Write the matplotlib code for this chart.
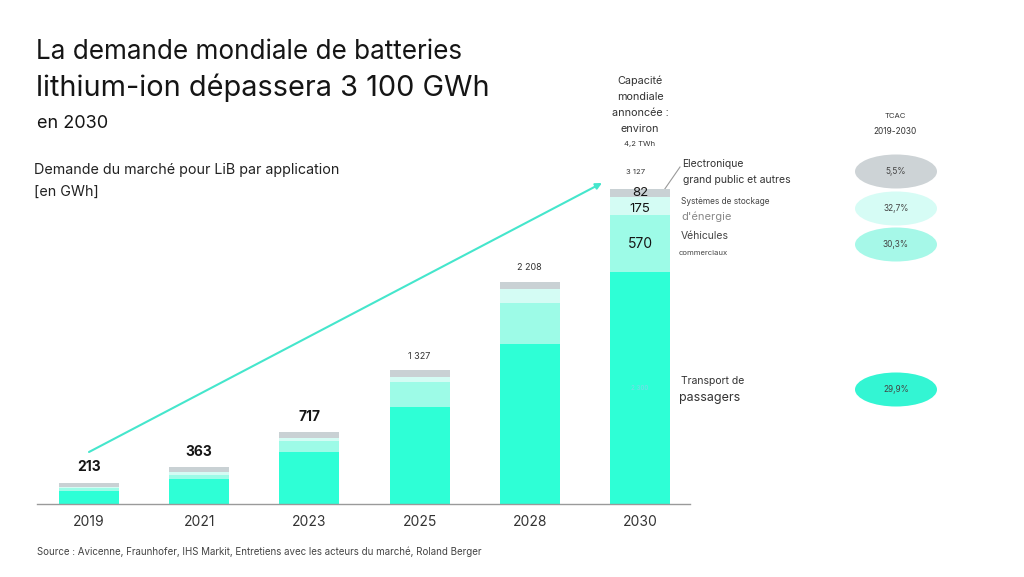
"""Demande mondiale de batteries lithium-ion par application, 2019-2030."""

import matplotlib

matplotlib.use("Agg")
import matplotlib.pyplot as plt
from matplotlib.patches import Ellipse

# données (GWh)
years = ["2019", "2021", "2023", "2025", "2028", "2030"]
passagers = [131, 253, 512, 960, 1590, 2300]
commerciaux = [25, 37, 114, 248, 405, 570]
stockage = [12, 23, 27, 50, 140, 175]
electronique = [45, 50, 64, 69, 73, 82]
totals = [213, 363, 717, 1327, 2208, 3127]
total_labels = ["213", "363", "717", "1 327", "2 208", "3 127"]
tcac = ["5,5%", "32,7%", "30,3%", "29,9%"]

C_PASS = "#2effd6"
C_COMM = "#9dfbe7"
C_STOCK = "#d4fcf4"
C_ELEC = "#c9d1d4"
INK = "#151515"
ARROW = "#45e6cc"

plt.rcParams.update({
    "font.family": ["Inter", "DejaVu Sans"],
    "text.color": INK,
})

W, H = 1024, 577
fig = plt.figure(figsize=(W / 100, H / 100), dpi=100)
fig.patch.set_facecolor("white")

# calque en coordonnées pixel pour les textes libres
ov = fig.add_axes([0, 0, 1, 1])
ov.set_xlim(0, W)
ov.set_ylim(H, 0)
ov.axis("off")

# axe principal, aligné sur les pixels de l'original
x0_px, x1_px, base_px, top_px = 37, 690, 504, 60
px_per_gwh = 0.1007
step_px, first_px = 110.2, 89
ax = fig.add_axes([x0_px / W, (H - base_px) / H, (x1_px - x0_px) / W, (base_px - top_px) / H])
ax.set_facecolor("none")
ax.set_xlim((x0_px - first_px) / step_px, (x1_px - first_px) / step_px)
ax.set_ylim(0, (base_px - top_px) / px_per_gwh)

xs = list(range(len(years)))
bw = 60 / step_px
b1 = passagers
b2 = [a + b for a, b in zip(b1, commerciaux)]
b3 = [a + b for a, b in zip(b2, stockage)]
ax.bar(xs, passagers, width=bw, color=C_PASS, lw=0)
ax.bar(xs, commerciaux, width=bw, bottom=b1, color=C_COMM, lw=0)
ax.bar(xs, stockage, width=bw, bottom=b2, color=C_STOCK, lw=0)
ax.bar(xs, electronique, width=bw, bottom=b3, color=C_ELEC, lw=0)

for spine in ["top", "right", "left"]:
    ax.spines[spine].set_visible(False)
ax.spines["bottom"].set_color("#9a9a9a")
ax.spines["bottom"].set_linewidth(1.0)
ax.set_yticks([])
ax.set_xticks(xs)
ax.set_xticklabels(years, fontsize=10, color="#333333")
ax.tick_params(axis="x", length=0, pad=8)

# totaux au-dessus des barres
for i, (t, lab) in enumerate(zip(totals, total_labels)):
    if i < 3:
        ax.annotate(lab, (i, t), xytext=(0, 11), textcoords="offset points",
                    ha="center", va="center", fontsize=10, fontweight="bold")
    elif i < 5:
        ax.annotate(lab, (i, t), xytext=(0, 10), textcoords="offset points",
                    ha="center", va="center", fontsize=6.5, color="#333333")
    else:
        ax.annotate(lab, (i, t), xytext=(-3, 12), textcoords="offset points",
                    ha="center", va="center", fontsize=5.5, color="#333333")

# valeurs des segments 2030
last = len(years) - 1
ax.text(last, b3[last] + electronique[last] / 2, str(electronique[last]),
        ha="center", va="center", fontsize=9.5)
ax.text(last, b2[last] + stockage[last] / 2 - 25, str(stockage[last]),
        ha="center", va="center", fontsize=9.5)
ax.text(last, b1[last] + commerciaux[last] / 2, str(commerciaux[last]),
        ha="center", va="center", fontsize=10)
ax.text(last, passagers[last] - 1150, "2 300", ha="center", va="center",
        fontsize=4.5, color="#7fd8ea")

# flèche de tendance
ax.annotate("", xy=((602 - first_px) / step_px, (base_px - 183) / px_per_gwh),
            xytext=(0, (base_px - 452) / px_per_gwh),
            arrowprops=dict(arrowstyle="-|>", color=ARROW, lw=1.5,
                            mutation_scale=9, shrinkA=0, shrinkB=0))

ov.text(36, 52, "La demande mondiale de batteries", fontsize=18.8, va="center")
ov.text(36, 88, "lithium-ion dépassera 3 100 GWh", fontsize=20.8, va="center")
ov.text(37, 123, "en 2030", fontsize=13, va="center")
ov.text(34, 170, "Demande du marché pour LiB par application", fontsize=10.3,
        va="center", color="#222222")
ov.text(34, 192, "[en GWh]", fontsize=10.3, va="center", color="#222222")

ov.text(640, 105, "Capacité\nmondiale\nannoncée :\nenviron", fontsize=7.8,
        ha="center", va="center", linespacing=1.75, color="#333333")
ov.text(640, 144, "4,2 TWh", fontsize=5.5, ha="center", va="center", color="#333333")

ov.plot([662, 680], [193, 167], color="#9a9a9a", lw=0.8)
ov.text(682, 164, "Electronique", fontsize=7.5, va="center", color="#333333")
ov.text(683, 180, "grand public et autres", fontsize=7.5, va="center", color="#333333")
ov.text(681, 201, "Systèmes de stockage", fontsize=6, va="center", color="#444444")
ov.text(681, 217, "d'énergie", fontsize=8, va="center", color="#888888")
ov.text(681, 236, "Véhicules", fontsize=7.5, va="center", color="#444444")
ov.text(679, 253, "commerciaux", fontsize=5.5, va="center", color="#444444")
ov.text(681, 381, "Transport de", fontsize=7.5, va="center", color="#333333")
ov.text(679, 398, "passagers", fontsize=9, va="center", color="#333333")

ov.text(895, 116, "TCAC", fontsize=5.5, ha="center", va="center", color="#333333")
ov.text(895, 132, "2019-2030", fontsize=6, ha="center", va="center", color="#333333")
for (cy, col), lab in zip([(171.5, "#cdd3d6"), (208.5, "#d6fcf5"),
                           (244.5, "#a6f8e8"), (389.5, "#33f5d3")], tcac):
    ov.add_patch(Ellipse((896, cy), 82, 34, color=col, lw=0))
    ov.text(896, cy, lab, fontsize=6, ha="center", va="center", color="#444444")

ov.text(37, 552, "Source : Avicenne, Fraunhofer, IHS Markit, Entretiens avec les acteurs "
        "du marché, Roland Berger", fontsize=7, va="center", color="#444444")

fig.savefig("out.png", dpi=100)
